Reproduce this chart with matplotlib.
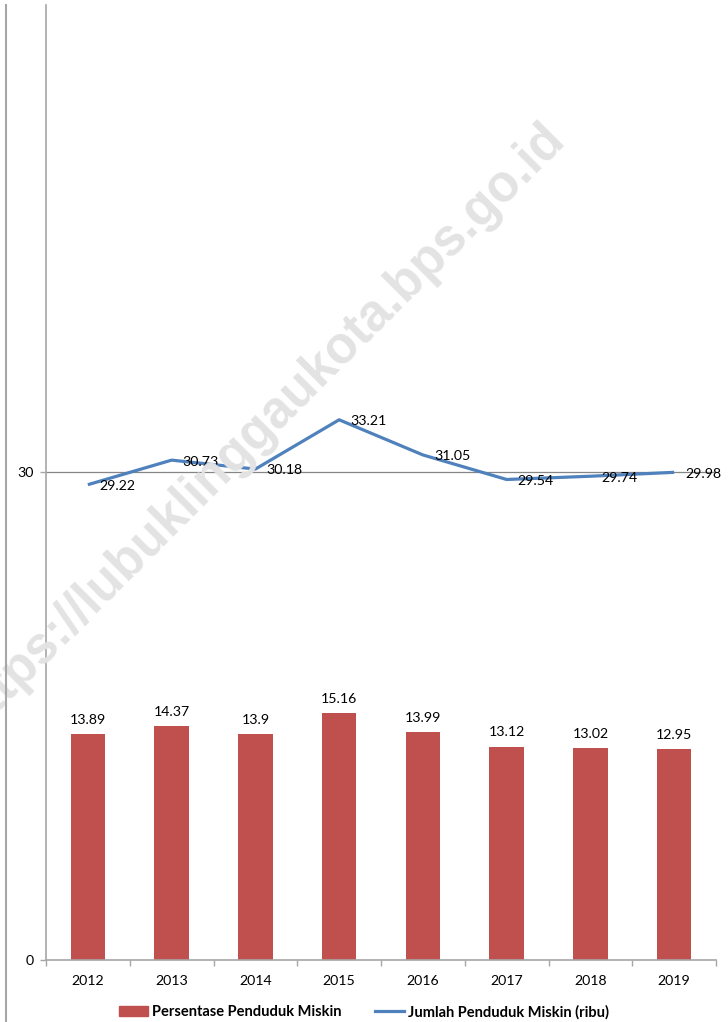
import matplotlib.pyplot as plt
import matplotlib.lines as mlines
import matplotlib.patches as mpatches
import numpy as np

years = ['2012', '2013', '2014', '2015', '2016', '2017', '2018', '2019']
persentase = [13.89, 14.37, 13.9, 15.16, 13.99, 13.12, 13.02, 12.95]
jumlah = [29.22, 30.73, 30.18, 33.21, 31.05, 29.54, 29.74, 29.98]

bar_color = '#C0504D'
line_color = '#4F81BD'
gray = '#A6A6A6'

plt.rcParams['font.family'] = ['Lato', 'DejaVu Sans']

W, H = 728, 1022
fig = plt.figure(figsize=(W / 100, H / 100), dpi=100)

# watermark
fig.text(566 / W, 1 - 140 / H, 'https://lubuklinggaukota.bps.go.id',
         fontsize=37, fontweight='bold', family='Liberation Sans',
         color='#E3E3E3', rotation=45,
         rotation_mode='anchor', ha='right', va='baseline', zorder=0)

ax = fig.add_axes([46 / W, 62 / H, 670 / W, 955 / H])
ax.patch.set_alpha(0)
x = np.arange(len(years))

bars = ax.bar(x, persentase, width=0.41, color=bar_color, zorder=2)
ax.bar_label(bars, labels=[str(v) for v in persentase], padding=6, fontsize=10.2)

ax.plot(x, jumlah, color=line_color, linewidth=2.3, zorder=3,
        solid_capstyle='butt')
for xi, v in zip(x, jumlah):
    ax.annotate(str(v), (xi, v), xytext=(8, -1), textcoords='offset points',
                ha='left', va='center', fontsize=10.2, zorder=4)

ax.axhline(30, color='#868686', linewidth=0.9, zorder=1)

ax.set_xlim(-0.5, len(years) - 0.5)
ax.set_ylim(0, 955 / 488 * 30)
ax.set_yticks([0, 30])
ax.set_yticklabels(['0', '30'], fontsize=10.2)
ax.set_xticks(x)
ax.set_xticklabels(years, fontsize=10.2)
ax.set_xticks(np.arange(-0.5, len(years)), minor=True)
ax.tick_params(axis='x', which='major', length=0, pad=11)
ax.tick_params(axis='x', which='minor', length=4, color=gray, width=1)
ax.tick_params(axis='y', length=4, color=gray, width=1, pad=4.5)

for s in ['top', 'right']:
    ax.spines[s].set_visible(False)
for s in ['left', 'bottom']:
    ax.spines[s].set_color(gray)
    ax.spines[s].set_linewidth(1.2)

# outer border line on the left
fig.add_artist(mlines.Line2D([6 / W, 6 / W], [0, 1 - 5 / H], color=gray,
                             linewidth=1.5, transform=fig.transFigure))

h1 = mpatches.Patch(color=bar_color, label='Persentase Penduduk Miskin')
h2 = mlines.Line2D([], [], color=line_color, linewidth=2.3,
                   label='Jumlah Penduduk Miskin (ribu)')
fig.legend(handles=[h1, h2], loc='center', bbox_to_anchor=(364 / W, 10 / H),
           ncol=2, frameon=False, prop={'size': 10.5, 'weight': 'bold'},
           handlelength=2.0, handleheight=0.75, handletextpad=0.25,
           columnspacing=2.3, borderpad=0)

fig.savefig('out.png', dpi=100)
